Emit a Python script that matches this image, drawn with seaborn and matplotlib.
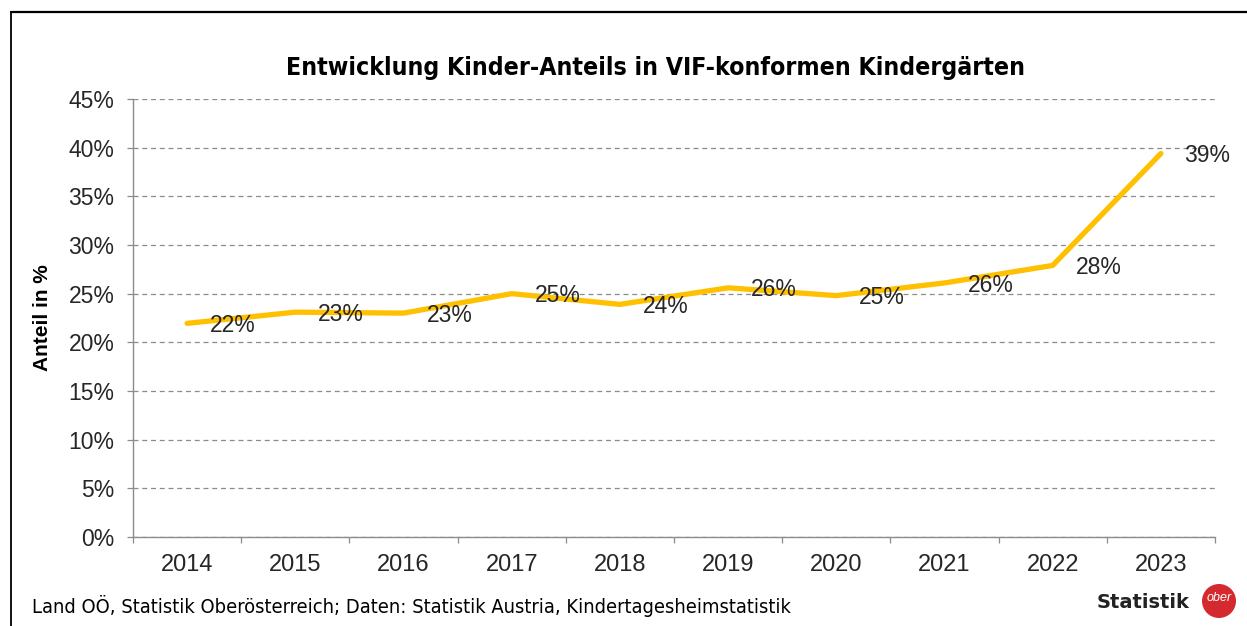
import matplotlib
matplotlib.use("Agg")
import matplotlib.pyplot as plt
import seaborn as sns
import pandas as pd
import numpy as np
from matplotlib.lines import Line2D
from matplotlib.patches import Ellipse
from matplotlib.ticker import FixedLocator, FuncFormatter

years = ["2014", "2015", "2016", "2017", "2018", "2019", "2020", "2021", "2022", "2023"]
shares = [21.95, 23.1, 23.0, 25.0, 23.9, 25.6, 24.8, 26.1, 27.9, 39.4]
value_labels = ["22%", "23%", "23%", "25%", "24%", "26%", "25%", "26%", "28%", "39%"]
y_ticks = [0, 5, 10, 15, 20, 25, 30, 35, 40, 45]

title = "Entwicklung Kinder-Anteils in VIF-konformen Kindergärten"
y_label = "Anteil in %"
source = "Land OÖ, Statistik Oberösterreich; Daten: Statistik Austria, Kindertagesheimstatistik"

sns.set_theme(style="white")
plt.rcParams["font.family"] = ["Liberation Sans", "DejaVu Sans"]

W, H = 1247, 626
fig = plt.figure(figsize=(W / 100, H / 100), dpi=100)
fig.patch.set_facecolor("white")
ax = fig.add_axes([133 / W, 1 - 537 / H, (1215 - 133) / W, (537 - 99) / H])

df = pd.DataFrame({"pos": np.arange(len(years)), "share": shares})
sns.lineplot(data=df, x="pos", y="share", ax=ax, color="#FFC000", linewidth=3.8,
             solid_capstyle="round", solid_joinstyle="round", zorder=3)

ax.set_xlim(-0.5, len(years) - 0.5)
ax.set_ylim(0, 45)
ax.yaxis.set_major_locator(FixedLocator(y_ticks))
ax.yaxis.set_major_formatter(FuncFormatter(lambda v, p: f"{int(v)}%"))
ax.set_xticks(np.arange(len(years)))
ax.set_xticklabels(years)
ax.xaxis.set_minor_locator(FixedLocator(np.arange(len(years) + 1) - 0.5))

ax.grid(axis="y", which="major", color="#8c8c8c", linestyle=(0, (4, 3)), linewidth=0.9)
ax.grid(axis="x", visible=False)
for s in ["top", "right"]:
    ax.spines[s].set_visible(False)
for s in ["left", "bottom"]:
    ax.spines[s].set_color("#8c8c8c")
    ax.spines[s].set_linewidth(1.0)

ax.tick_params(axis="y", which="major", left=True, length=4.5, width=0.9, color="#8c8c8c",
               pad=9, labelsize=16.5, labelcolor="#262626")
ax.tick_params(axis="x", which="major", bottom=False, length=0, pad=12, labelsize=17,
               labelcolor="#262626")
ax.tick_params(axis="x", which="minor", bottom=True, length=4.5, width=0.9, color="#8c8c8c")

ax.set_xlabel("")
ax.set_ylabel(y_label, fontsize=15, fontweight="bold", color="black", labelpad=12)

for i, (v, lab) in enumerate(zip(shares, value_labels)):
    ax.annotate(lab, xy=(i, v), xytext=(16.5, -1.5), textcoords="offset points",
                ha="left", va="center", fontsize=16.5, color="#262626", zorder=4)

fig.text(656 / W, 1 - 68 / H, title, ha="center", va="center", fontsize=17.8,
         fontweight="bold", family="DejaVu Sans", fontstretch="condensed", color="black")
fig.text(32 / W, 1 - 606 / H, source, ha="left", va="center", fontsize=14.4,
         family="DejaVu Sans", fontstretch="condensed", color="black")

# logo
fig.text(1190 / W, 1 - 602 / H, "Statistik", ha="right", va="center", fontsize=14,
         fontweight="bold", family="DejaVu Sans", color="#222222")
fig.add_artist(Ellipse((1219 / W, 1 - 601 / H), 34 / W, 34 / H, transform=fig.transFigure,
                       facecolor="#D42A2F", edgecolor="none"))
fig.text(1219 / W, 1 - 598 / H, "ober", ha="center", va="center", fontsize=9,
         fontstyle="italic", color="white")

# frame
fig.add_artist(Line2D([11 / W, 11 / W], [0, 1 - 12 / H], transform=fig.transFigure,
                      color="black", linewidth=1.3))
fig.add_artist(Line2D([11 / W, 1], [1 - 12 / H, 1 - 12 / H], transform=fig.transFigure,
                      color="black", linewidth=1.6))

fig.savefig("out.png", dpi=100, facecolor="white")
